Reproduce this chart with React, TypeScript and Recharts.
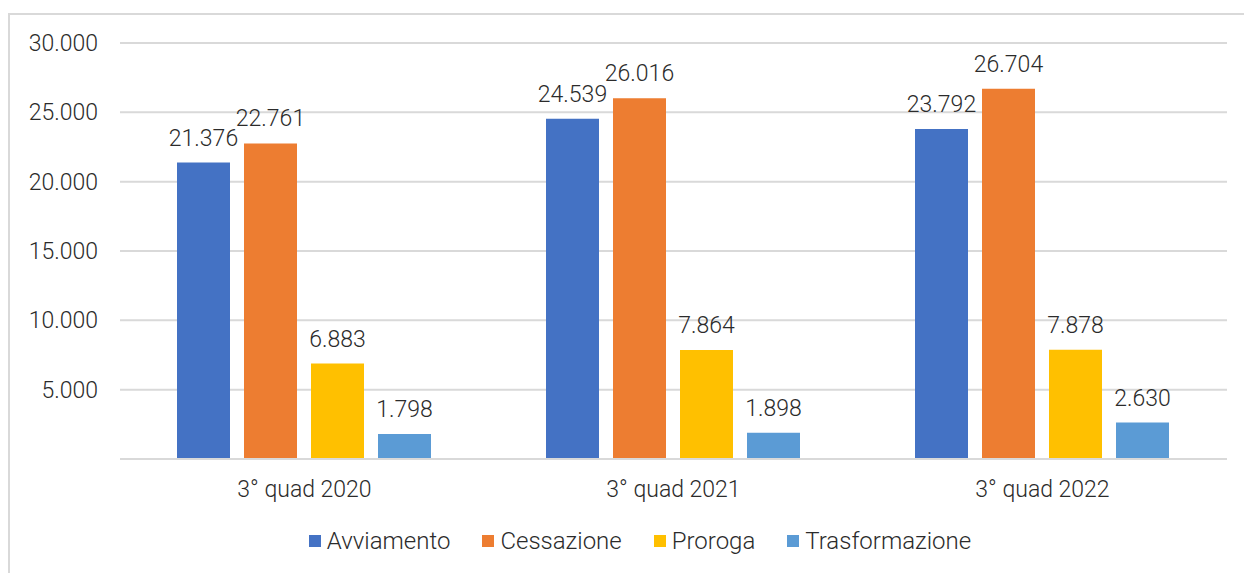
import { Bar, BarChart, CartesianGrid, LabelList, XAxis, YAxis } from "recharts";

const categories = ["3° quad 2020", "3° quad 2021", "3° quad 2022"];
const avviamento = [21376, 24539, 23792];
const cessazione = [22761, 26016, 26704];
const proroga = [6883, 7864, 7878];
const trasformazione = [1798, 1898, 2630];
const yTicks = [0, 5000, 10000, 15000, 20000, 25000, 30000];

const series = [
  { key: "Avviamento", color: "#4472C4" },
  { key: "Cessazione", color: "#ED7D31" },
  { key: "Proroga", color: "#FFC000" },
  { key: "Trasformazione", color: "#5B9BD5" },
];

const data = categories.map((name, i) => ({
  name,
  Avviamento: avviamento[i],
  Cessazione: cessazione[i],
  Proroga: proroga[i],
  Trasformazione: trasformazione[i],
}));

const fmt = (v: number) => String(v).replace(/\B(?=(\d{3})+(?!\d))/g, ".");
const textColor = "#2b2b2b";
const font = "Roboto, sans-serif";

function ChartLegend() {
  return (
    <div
      style={{
        position: "absolute",
        top: 527,
        left: 0,
        width: 1244,
        display: "flex",
        justifyContent: "center",
        fontFamily: font,
        fontWeight: 300,
        fontSize: 24,
        color: textColor,
        paddingLeft: 36,
        boxSizing: "border-box",
      }}
    >
      {series.map((s, i) => (
        <div key={s.key} style={{ display: "flex", alignItems: "center", marginLeft: i ? 32 : 0 }}>
          <span style={{ width: 12, height: 12, background: s.color, display: "inline-block", marginRight: 6 }} />
          <span>{s.key}</span>
        </div>
      ))}
    </div>
  );
}

export default function App() {
  return (
    <div style={{ position: "absolute", left: 0, top: 0, width: 1244, height: 573, overflow: "hidden", background: "#fff" }}>
      <div
        style={{
          position: "absolute",
          left: 8,
          top: 13,
          width: 1260,
          height: 600,
          border: "2px solid #d9d9d9",
        }}
      />
      <BarChart
        width={1244}
        height={573}
        data={data}
        margin={{ top: 43, right: 17, left: 20, bottom: 0 }}
        barCategoryGap={57}
        barGap={14}
        style={{ position: "absolute", left: 0, top: 0 }}
      >
        <CartesianGrid vertical={false} stroke="#d9d9d9" strokeWidth={2} />
        <XAxis
          dataKey="name"
          height={114}
          tickLine={false}
          axisLine={{ stroke: "#d9d9d9", strokeWidth: 2 }}
          tick={{ fill: textColor, fontSize: 23, fontWeight: 300, fontFamily: font, dy: 14 }}
        />
        <YAxis
          width={100}
          domain={[0, 30000]}
          ticks={yTicks}
          interval={0}
          tickLine={false}
          axisLine={false}
          tickFormatter={(v: number) => (v === 0 ? "" : fmt(v))}
          tick={{ fill: textColor, fontSize: 23, fontWeight: 300, fontFamily: font, dx: -14 }}
        />
        {series.map((s) => (
          <Bar key={s.key} dataKey={s.key} fill={s.color} isAnimationActive={false}>
            <LabelList
              dataKey={s.key}
              position="top"
              offset={17}
              formatter={(v: number) => fmt(v)}
              style={{ fill: textColor, fontSize: 23, fontWeight: 300, fontFamily: font }}
            />
          </Bar>
        ))}
      </BarChart>
      <ChartLegend />
    </div>
  );
}
